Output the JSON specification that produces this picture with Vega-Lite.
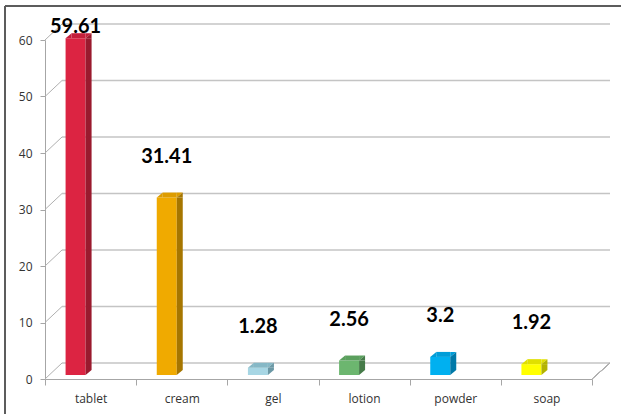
{
  "$schema": "https://vega.github.io/schema/vega-lite/v6.json",
  "autosize": "none",
  "padding": {"left": 5, "top": 6, "right": 0, "bottom": 0},
  "width": 616,
  "height": 408,
  "background": "white",
  "config": {
    "view": {"stroke": "#5c5c5c", "strokeWidth": 2, "strokeDash": [616, 1024, 408, 0]},
    "axis": {"labelFont": "Open Sans", "labelFontSize": 12, "labelColor": "#333333", "domainColor": "#a6a6a6", "tickColor": "#a6a6a6", "title": null, "grid": false}
  },
  "datasets": {
    "bars": [
      {"category": "tablet", "value": 59.61},
      {"category": "cream", "value": 31.41},
      {"category": "gel", "value": 1.28},
      {"category": "lotion", "value": 2.56},
      {"category": "powder", "value": 3.2},
      {"category": "soap", "value": 1.92}
    ],
    "grid": [{"v": 0}, {"v": 10}, {"v": 20}, {"v": 30}, {"v": 40}, {"v": 50}, {"v": 60}]
  },
  "data": {"name": "bars"},
  "encoding": {
    "x": {"field": "category", "type": "nominal", "sort": null,
      "scale": {"domain": ["tablet", "cream", "gel", "lotion", "powder", "soap"], "range": [40, 587], "paddingInner": 0, "paddingOuter": 0},
      "axis": {"orient": "bottom", "offset": -35, "labelAngle": 0, "tickBand": "extent", "tickSize": 6, "labelPadding": 8}}
  },
  "layer": [
    {
      "data": {"name": "grid"},
      "mark": {"type": "rule", "color": "#c4c4c4", "strokeWidth": 1.5, "xOffset": 17, "x2Offset": 18, "yOffset": -16, "y2Offset": -16},
      "encoding": {
        "x": {"datum": "tablet", "bandPosition": 0},
        "x2": {"datum": "soap", "bandPosition": 1},
        "y": {"field": "v", "type": "quantitative",
          "scale": {"domain": [0, 60], "range": [373, 34], "nice": false},
          "axis": {"orient": "left", "offset": -40, "values": [0, 10, 20, 30, 40, 50, 60], "tickSize": 5, "labelPadding": 8}}
      }
    },
    {
      "data": {"name": "grid"},
      "mark": {"type": "rule", "color": "#b0b0b0", "strokeWidth": 1, "x2Offset": 17, "y2Offset": -16},
      "encoding": {
        "x": {"datum": "tablet", "bandPosition": 0},
        "x2": {"datum": "tablet", "bandPosition": 0},
        "y": {"field": "v", "type": "quantitative"},
        "y2": {"field": "v"}
      }
    },
    {
      "mark": {"type": "rule", "color": "#b0b0b0", "strokeWidth": 1, "x2Offset": 18, "y2Offset": -16},
      "encoding": {
        "x": {"datum": "soap", "bandPosition": 1},
        "x2": {"datum": "soap", "bandPosition": 1},
        "y": {"datum": 0, "type": "quantitative"},
        "y2": {"datum": 0}
      }
    },
    {
      "mark": {"type": "bar", "width": 20, "xOffset": -15, "yOffset": -4, "y2Offset": -4},
      "encoding": {
        "y": {"field": "value", "type": "quantitative"},
        "y2": {"datum": 0},
        "color": {"field": "category", "type": "nominal", "legend": null,
          "scale": {"domain": ["tablet", "cream", "gel", "lotion", "powder", "soap"], "range": ["#dc2442", "#f0aa00", "#a7d6e4", "#6cb66f", "#00b0f0", "#ffff00"]}}
      }
    },
    {
      "mark": {"type": "bar", "width": 14, "xOffset": -12, "yOffset": -9, "y2Offset": -4},
      "encoding": {
        "y": {"field": "value", "type": "quantitative"},
        "y2": {"field": "value"},
        "color": {"field": "category", "type": "nominal", "legend": null,
          "scale": {"domain": ["tablet", "cream", "gel", "lotion", "powder", "soap"], "range": ["#c41f3b", "#dd9c00", "#86b8c6", "#5ba05e", "#009dd8", "#e0e000"]}}
      }
    },
    {
      "mark": {"type": "point", "shape": "M-1,0.833L1,-0.833L1,0.833Z", "size": 36, "filled": true, "opacity": 1, "xOffset": -22, "yOffset": -6.5},
      "encoding": {
        "y": {"field": "value", "type": "quantitative"},
        "color": {"field": "category", "type": "nominal", "legend": null,
          "scale": {"domain": ["tablet", "cream", "gel", "lotion", "powder", "soap"], "range": ["#c41f3b", "#dd9c00", "#86b8c6", "#5ba05e", "#009dd8", "#e0e000"]}}
      }
    },
    {
      "mark": {"type": "point", "shape": "M-1,0.833L1,-0.833L-1,-0.833Z", "size": 36, "filled": true, "opacity": 1, "xOffset": -2, "yOffset": -6.5},
      "encoding": {
        "y": {"field": "value", "type": "quantitative"},
        "color": {"field": "category", "type": "nominal", "legend": null,
          "scale": {"domain": ["tablet", "cream", "gel", "lotion", "powder", "soap"], "range": ["#c41f3b", "#dd9c00", "#86b8c6", "#5ba05e", "#009dd8", "#e0e000"]}}
      }
    },
    {
      "mark": {"type": "bar", "width": 6, "xOffset": -2, "yOffset": -4, "y2Offset": -9},
      "encoding": {
        "y": {"field": "value", "type": "quantitative"},
        "y2": {"datum": 0},
        "color": {"field": "category", "type": "nominal", "legend": null,
          "scale": {"domain": ["tablet", "cream", "gel", "lotion", "powder", "soap"], "range": ["#9a1a2e", "#a67600", "#6b98a5", "#467b49", "#0079a8", "#b3b300"]}}
      }
    },
    {
      "mark": {"type": "point", "shape": "M-1,0.833L1,-0.833L1,0.833Z", "size": 36, "filled": true, "opacity": 1, "xOffset": -2, "yOffset": -6.5},
      "encoding": {
        "y": {"field": "value", "type": "quantitative"},
        "color": {"field": "category", "type": "nominal", "legend": null,
          "scale": {"domain": ["tablet", "cream", "gel", "lotion", "powder", "soap"], "range": ["#9a1a2e", "#a67600", "#6b98a5", "#467b49", "#0079a8", "#b3b300"]}}
      }
    },
    {
      "mark": {"type": "point", "shape": "M-1,-0.833L1,-0.833L-1,0.833Z", "size": 36, "filled": true, "opacity": 1, "xOffset": -2, "yOffset": -6.5},
      "encoding": {
        "y": {"datum": 0, "type": "quantitative"},
        "color": {"field": "category", "type": "nominal", "legend": null,
          "scale": {"domain": ["tablet", "cream", "gel", "lotion", "powder", "soap"], "range": ["#9a1a2e", "#a67600", "#6b98a5", "#467b49", "#0079a8", "#b3b300"]}}
      }
    },
    {
      "transform": [{"filter": "datum.value > 50"}],
      "mark": {"type": "text", "font": "Lato", "fontWeight": "bold", "fontSize": 20, "color": "black", "dx": -15, "dy": -15, "baseline": "middle"},
      "encoding": {
        "y": {"field": "value", "type": "quantitative"},
        "text": {"field": "value", "type": "nominal"}
      }
    },
    {
      "transform": [{"filter": "datum.value <= 50"}],
      "mark": {"type": "text", "font": "Lato", "fontWeight": "bold", "fontSize": 20, "color": "black", "dx": -15, "dy": -45, "baseline": "middle"},
      "encoding": {
        "y": {"field": "value", "type": "quantitative"},
        "text": {"field": "value", "type": "nominal"}
      }
    }
  ],
  "resolve": {"scale": {"color": "independent"}}
}
